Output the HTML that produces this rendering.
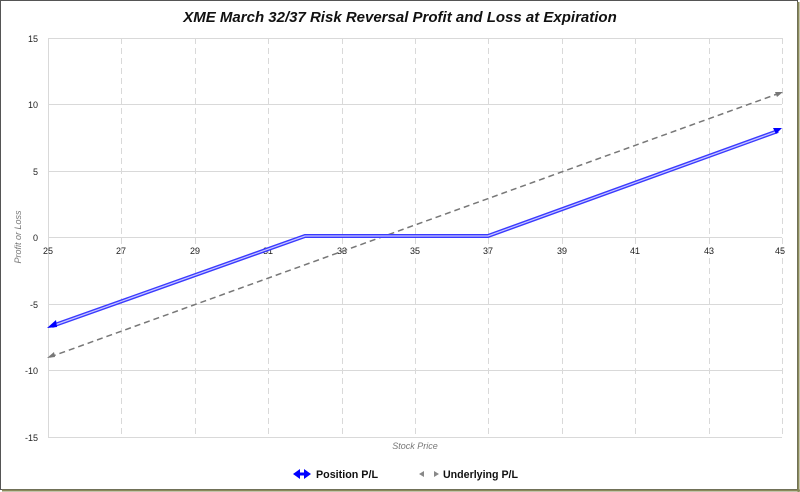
<!DOCTYPE html>
<html><head><style>
body{margin:0;background:#fff;}
.wrap{width:800px;height:492px;position:relative;overflow:hidden;}
svg text{font-family:"Liberation Sans",sans-serif;}
</style></head><body><div class="wrap">
<svg width="800" height="492" viewBox="0 0 800 492">
<rect x="0.5" y="0.5" width="797" height="489" fill="#fff" stroke="#555" stroke-width="1"/>
<line x1="2" y1="490.5" x2="800" y2="490.5" stroke="#8a8a5a" stroke-width="2"/>
<line x1="798.5" y1="2" x2="798.5" y2="492" stroke="#8a8a5a" stroke-width="2"/>
<text x="400" y="22" text-anchor="middle" font-size="15" font-style="italic" font-weight="bold" fill="#111">XME March 32/37 Risk Reversal Profit and Loss at Expiration</text>
<g stroke="#d9d9d9" stroke-width="1">
<line x1="48" y1="38.5" x2="782" y2="38.5"/>
<line x1="48" y1="104.5" x2="782" y2="104.5"/>
<line x1="48" y1="171.5" x2="782" y2="171.5"/>
<line x1="48" y1="237.5" x2="782" y2="237.5"/>
<line x1="48" y1="304.5" x2="782" y2="304.5"/>
<line x1="48" y1="370.5" x2="782" y2="370.5"/>
<line x1="48" y1="437.5" x2="782" y2="437.5"/>
<line x1="48.5" y1="38" x2="48.5" y2="437"/>
</g>
<g stroke="#d9d9d9" stroke-width="1" stroke-dasharray="6,4">
<line x1="121.5" y1="38" x2="121.5" y2="437"/><line x1="195.5" y1="38" x2="195.5" y2="437"/>
<line x1="268.5" y1="38" x2="268.5" y2="437"/><line x1="342.5" y1="38" x2="342.5" y2="437"/>
<line x1="415.5" y1="38" x2="415.5" y2="437"/><line x1="488.5" y1="38" x2="488.5" y2="437"/>
<line x1="562.5" y1="38" x2="562.5" y2="437"/><line x1="635.5" y1="38" x2="635.5" y2="437"/>
<line x1="709.5" y1="38" x2="709.5" y2="437"/><line x1="782.5" y1="38" x2="782.5" y2="437"/>
</g>
<g font-size="9" fill="#222" text-anchor="end">
<text x="38" y="42">15</text><text x="38" y="108">10</text><text x="38" y="175">5</text>
<text x="38" y="241">0</text><text x="38" y="308">-5</text><text x="38" y="374">-10</text><text x="38" y="441">-15</text>
</g>
<g font-size="9" fill="#222" text-anchor="middle">
<text x="48" y="254">25</text><text x="121" y="254">27</text><text x="195" y="254">29</text>
<text x="268" y="254">31</text><text x="342" y="254">33</text><text x="415" y="254">35</text>
<text x="488" y="254">37</text><text x="562" y="254">39</text><text x="635" y="254">41</text>
<text x="709" y="254">43</text><text x="780" y="254">45</text>
</g>
<text x="415" y="449" text-anchor="middle" font-size="9" font-style="italic" fill="#777">Stock Price</text>
<text transform="translate(21,237) rotate(-90)" text-anchor="middle" font-size="9" font-style="italic" fill="#777">Profit or Loss</text>
<polyline points="50,357 780,93" fill="none" stroke="#777" stroke-width="1.5" stroke-dasharray="6,4"/>
<polygon points="47,358 54,352 55,357" fill="#777"/>
<polygon points="783,92 775,92 777,97" fill="#777"/>
<polyline points="52,326 305,236 488,236 778,131" fill="none" stroke="#3a3aff" stroke-width="4"/>
<polyline points="52,326 305,236 488,236 778,131" fill="none" stroke="#c8c8ff" stroke-width="1.2"/>
<polygon points="47,328 56,320 57,327" fill="#0000ff"/>
<polygon points="782,128 773,128 776,134" fill="#0000ff"/>
<g font-size="11" font-weight="bold" fill="#111">
<polygon points="293,474 300,469 300,479" fill="#0000ff"/><polygon points="311,474 304,469 304,479" fill="#0000ff"/>
<rect x="299" y="472.5" width="6" height="3" fill="#0000ff"/>
<text x="316" y="478" textLength="62" lengthAdjust="spacingAndGlyphs">Position P/L</text>
<polygon points="419,474 424,471 424,477" fill="#888"/><polygon points="439,474 434,471 434,477" fill="#888"/>
<text x="443" y="478" textLength="75" lengthAdjust="spacingAndGlyphs">Underlying P/L</text>
</g>
</svg>
</div></body></html>
